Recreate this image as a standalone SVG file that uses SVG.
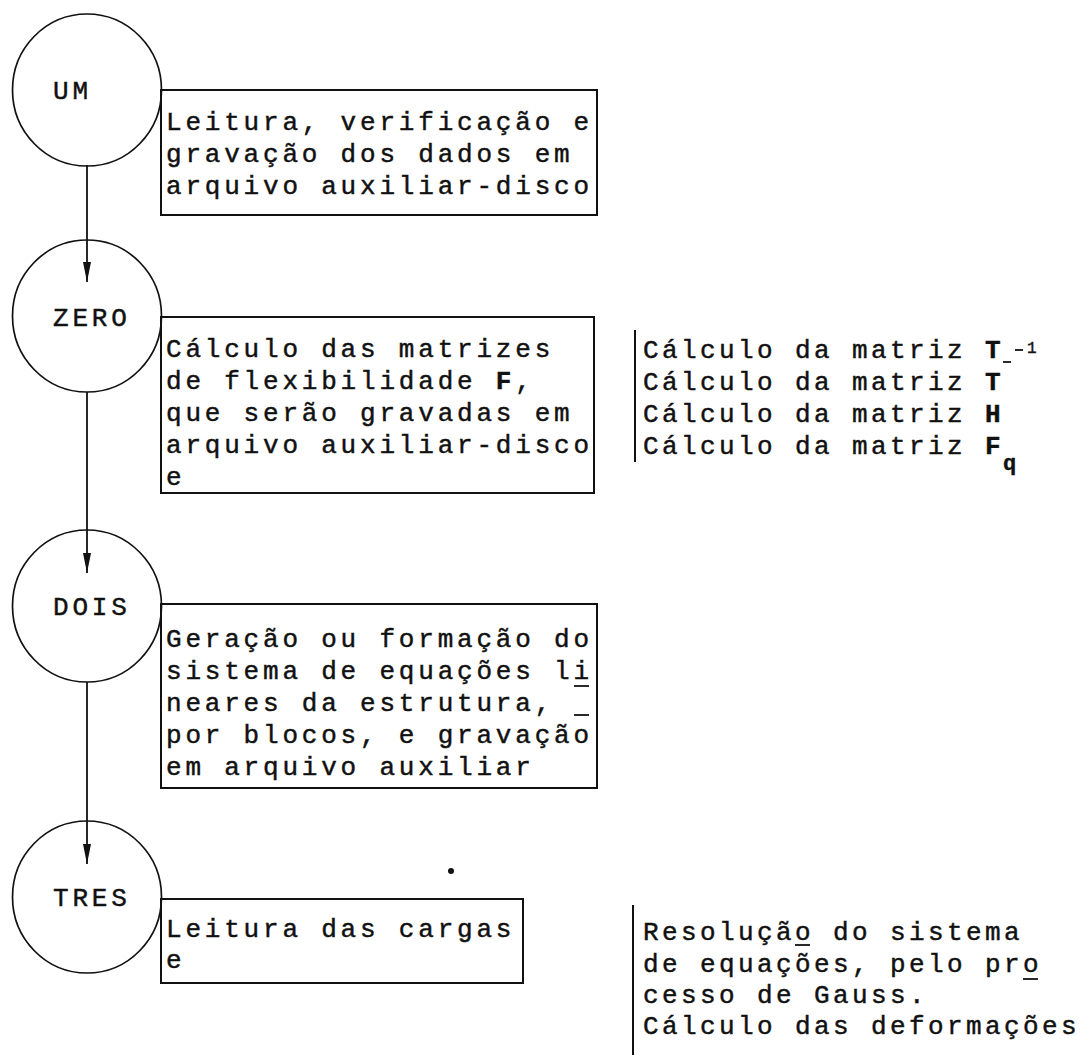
<svg xmlns="http://www.w3.org/2000/svg" width="1081" height="1055" viewBox="0 0 1081 1055">
<defs>
<style>
.c{fill:none;stroke:#111;stroke-width:1.7}
.b{fill:none;stroke:#111;stroke-width:2}
.t{font-family:"Liberation Mono","DejaVu Sans Mono",monospace;font-size:26px;letter-spacing:3.8px;fill:#111;stroke:#111;stroke-width:0.45}
.r{letter-spacing:3.4px}
.bold{font-weight:bold}
.s{font-family:"Liberation Mono","DejaVu Sans Mono",monospace;fill:#111;stroke:#111;stroke-width:0.4}
.ln{stroke:#111;stroke-width:1.8;fill:none}
</style>
<marker id="ah" viewBox="0 0 20 8" refX="20" refY="4" markerWidth="20" markerHeight="8" markerUnits="userSpaceOnUse" orient="auto">
<path d="M0,0 L20,4 L0,8 z" fill="#111"/>
</marker>
</defs>
<rect width="1081" height="1055" fill="#fff"/>

<g id="connectors">
<line class="ln" x1="87" y1="165" x2="87" y2="282" marker-end="url(#ah)"/>
<line class="ln" x1="87" y1="392" x2="87" y2="573" marker-end="url(#ah)"/>
<line class="ln" x1="87" y1="682" x2="87" y2="864" marker-end="url(#ah)"/>
</g>

<g id="node-um">
<ellipse class="c" cx="87" cy="90" rx="74.5" ry="76"/>
<text class="t" x="53" y="99">UM</text>
</g>
<g id="box-um">
<rect class="b" x="161" y="90" width="436" height="125"/>
<text class="t" x="166" y="130">Leitura, verificação e</text>
<text class="t" x="166" y="162">gravação dos dados em</text>
<text class="t" x="166" y="194">arquivo auxiliar-disco</text>
</g>

<g id="node-zero">
<ellipse class="c" cx="87" cy="316" rx="74.5" ry="76"/>
<text class="t" x="53" y="326">ZERO</text>
</g>
<g id="box-zero">
<rect class="b" x="161" y="317" width="433" height="176"/>
<text class="t" x="166" y="357">Cálculo das matrizes</text>
<text class="t" x="166" y="389">de flexibilidade <tspan class="bold">F</tspan>,</text>
<text class="t" x="166" y="421">que serão gravadas em</text>
<text class="t" x="166" y="453">arquivo auxiliar-disco</text>
<text class="t" x="166" y="485">e</text>
</g>
<g id="note-zero">
<line class="b" x1="635" y1="330" x2="635" y2="462"/>
<text class="t r" x="643" y="358">Cálculo da matriz <tspan class="bold">T</tspan></text>
<line class="ln" x1="1003" y1="362" x2="1011" y2="362"/>
<line class="ln" x1="1015" y1="350" x2="1023" y2="350"/>
<text class="s" x="1027" y="353" font-size="16">1</text>
<text class="t r" x="643" y="390">Cálculo da matriz <tspan class="bold">T</tspan></text>
<text class="t r" x="643" y="422">Cálculo da matriz <tspan class="bold">H</tspan></text>
<text class="t r" x="643" y="454">Cálculo da matriz <tspan class="bold">F</tspan></text>
<text class="s bold" x="1003" y="470" font-size="22">q</text>
</g>

<g id="node-dois">
<ellipse class="c" cx="87" cy="606" rx="74.5" ry="76"/>
<text class="t" x="53" y="615">DOIS</text>
</g>
<g id="box-dois">
<rect class="b" x="161" y="604" width="436" height="184"/>
<text class="t" x="166" y="647">Geração ou formação do</text>
<text class="t" x="166" y="679">sistema de equações li</text>
<line class="ln" x1="574" y1="686" x2="589" y2="686"/>
<text class="t" x="166" y="711">neares da estrutura,</text>
<line class="ln" x1="574" y1="715" x2="589" y2="715"/>
<text class="t" x="166" y="743">por blocos, e gravação</text>
<text class="t" x="166" y="775">em arquivo auxiliar</text>
</g>

<g id="node-tres">
<ellipse class="c" cx="87" cy="897" rx="74.5" ry="76"/>
<text class="t" x="53" y="906">TRES</text>
</g>
<g id="box-tres">
<rect class="b" x="161" y="899" width="362" height="84"/>
<text class="t" x="166" y="937">Leitura das cargas</text>
<text class="t" x="166" y="968">e</text>
</g>
<circle cx="451" cy="871" r="3" fill="#111"/>
<g id="note-tres">
<line class="b" x1="633" y1="905" x2="633" y2="1055"/>
<text class="t r" x="643" y="940">Resolução do sistema</text>
<line class="ln" x1="795" y1="945" x2="810" y2="945"/>
<text class="t r" x="643" y="972">de equações, pelo pro</text>
<line class="ln" x1="1023" y1="979" x2="1038" y2="979"/>
<text class="t r" x="643" y="1003">cesso de Gauss.</text>
<text class="t r" x="643" y="1034">Cálculo das deformações</text>
</g>
</svg>
